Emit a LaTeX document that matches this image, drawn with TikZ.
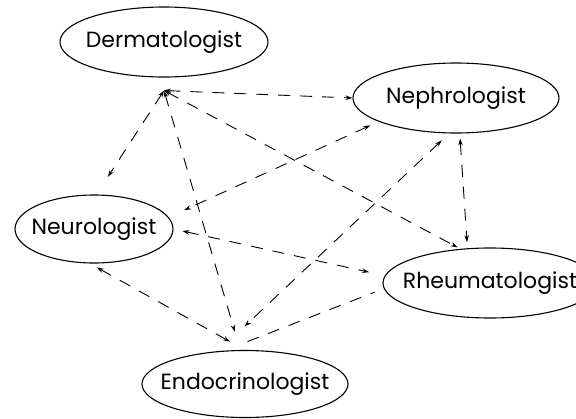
\documentclass[tikz,border=0pt]{standalone}
\usepackage{fontspec}
\setmainfont{Poppins}
\usetikzlibrary{arrows.meta,positioning,shapes.geometric}

\begin{document}
\begin{tikzpicture}[
  x=1pt,y=-1pt,
  font=\fontsize{22}{26}\selectfont,
  >={Stealth[length=7pt,width=4.5pt]},
  spec/.style={ellipse,draw=black,line width=1.1pt,inner xsep=-20pt,inner ysep=0pt,
    minimum width=206pt,minimum height=70pt},
  link/.style={<->,line width=0.9pt,dash pattern=on 12pt off 10pt},
  bare/.style={line width=0.9pt,dash pattern=on 12pt off 10pt}
]
\useasboundingbox (0,0) rectangle (576,418);

% specialists
\node[spec,minimum width=208pt] (derm) at (164,42) {Dermatologist};
\node[spec] (neph) at (456,98) {Nephrologist};
\node[spec,minimum width=158pt,minimum height=68pt] (neuro) at (94,229) {Neurologist};
\node[spec,minimum width=214pt] (rheum) at (490,283) {Rheumatologist};
\node[spec,minimum height=67pt] (endo) at (245,384) {Endocrinologist};
\coordinate[below=13pt of derm] (hub);

% referrals from the dermatologist
\draw[link] (hub) -- (neph.west);
\draw[link,shorten >=21pt] (hub) -- (neuro.86);
\draw[link,shorten >=19pt] (hub) -- (endo.98);
\draw[link,shorten >=3pt] (hub) -- (rheum.131);

% other referrals
\draw[link,shorten <=5pt,shorten >=6pt] (neph.276) -- (rheum.123);
\draw[link,shorten <=9pt,shorten >=17pt] (neph.197) -- (neuro.9);
\draw[link,shorten <=10pt,shorten >=36pt] (neph.259) -- (endo.129);
\draw[link,shorten <=9pt,shorten >=16pt] (neuro.east) -- (rheum.176);
\draw[link,shorten <=8pt,shorten >=17pt] (neuro.263) -- (endo.north);
\draw[bare,shorten <=25pt,shorten >=10pt] (endo.122) -- (rheum.183);

\end{tikzpicture}
\end{document}
